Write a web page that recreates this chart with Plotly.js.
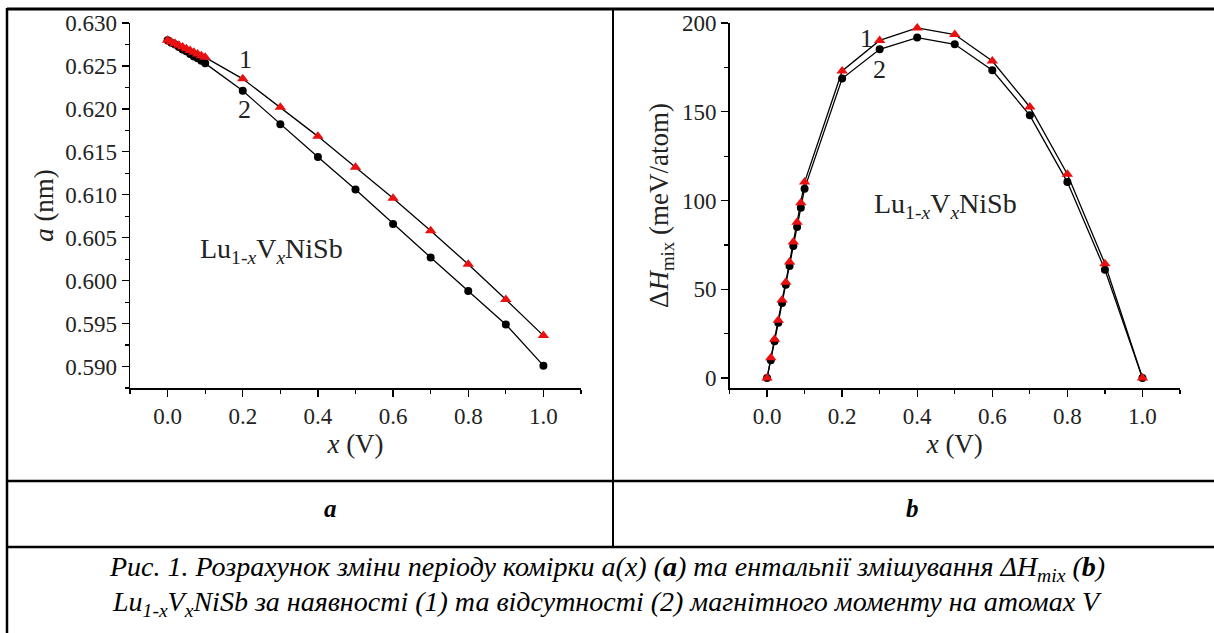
<!DOCTYPE html>
<html>
<head>
<meta charset="utf-8">
<script src="https://cdn.plot.ly/plotly-3.0.1.min.js"></script>
<style>
html,body{margin:0;padding:0;background:#fff;}
#chart{width:1214px;height:633px;}
</style>
</head>
<body>
<div id="chart"></div>
<script>
// ---- data ----
const xComp = [0, 0.01, 0.02, 0.03, 0.04, 0.05, 0.06, 0.07, 0.08, 0.09, 0.1, 0.2, 0.3, 0.4, 0.5, 0.6, 0.7, 0.8, 0.9, 1.0];
// lattice parameter a (nm): 1 - with magnetic moment, 2 - without
const a1 = [0.6280, 0.6278, 0.6276, 0.6274, 0.6272, 0.6270, 0.6268, 0.6266, 0.6264, 0.6262, 0.6260,
            0.6235, 0.6202, 0.6168, 0.6132, 0.6096, 0.6058, 0.6019, 0.5978, 0.5936];
const a2 = [0.6280, 0.6277, 0.6275, 0.6272, 0.6269, 0.6267, 0.6264, 0.6261, 0.6259, 0.6256, 0.6253,
            0.6221, 0.6182, 0.6144, 0.6106, 0.6066, 0.6027, 0.5988, 0.5949, 0.5901];
// mixing enthalpy (meV/atom)
const h1 = [0, 11.5, 21.8, 32.5, 43.9, 54.0, 65.4, 76.6, 87.7, 98.8, 110.4,
            173.0, 190.2, 197.2, 193.5, 178.6, 152.7, 114.8, 64.4, 0];
const h2 = [0, 10.0, 20.8, 31.2, 42.3, 52.6, 63.1, 74.4, 85.1, 96.0, 106.7,
            168.7, 185.2, 191.8, 188.0, 173.4, 148.0, 110.4, 61.0, 0];
const xTicks = [0, 0.2, 0.4, 0.6, 0.8, 1.0];
const xTickText = ['0.0', '0.2', '0.4', '0.6', '0.8', '1.0'];
const aTicks = [0.590, 0.595, 0.600, 0.605, 0.610, 0.615, 0.620, 0.625, 0.630];
const hTicks = [0, 50, 100, 150, 200];

const W = 1214, H = 633;
const px = v => v / W;
const py = v => 1 - v / H;
const serif = 'Liberation Serif';

function curve(x, y, xa, ya, sym, color, size) {
  return {
    x: x, y: y, xaxis: xa, yaxis: ya, type: 'scatter', mode: 'lines+markers',
    line: {color: '#000', width: 1.3},
    marker: {symbol: sym, color: color, size: size, line: {width: 0}},
    hoverinfo: 'skip', showlegend: false
  };
}

const traces = [
  curve(xComp, a2, 'x', 'y', 'circle', '#000000', 8),
  curve(xComp, a1, 'x', 'y', 'triangle-up', '#e81010', 10),
  curve(xComp, h2, 'x2', 'y2', 'circle', '#000000', 8),
  curve(xComp, h1, 'x2', 'y2', 'triangle-up', '#e81010', 10)
];

function xAxis(dom, anchor) {
  return {
    domain: dom, anchor: anchor, range: [-0.1, 1.1],
    tickmode: 'array', tickvals: xTicks, ticktext: xTickText,
    ticks: 'outside', ticklen: 7, tickwidth: 1.3, tickcolor: '#000',
    minor: {dtick: 0.1, tick0: 0, ticks: 'outside', ticklen: 4, tickwidth: 1.2, tickcolor: '#000'},
    showline: true, linecolor: '#000', linewidth: 1.5, showgrid: false, zeroline: false,
    tickfont: {family: serif, size: 23, color: '#222'},
    title: {text: '<i>x</i> (V)', font: {family: serif, size: 27, color: '#222'}, standoff: 0}
  };
}

function note(x, y, text, size, color) {
  return {xref: 'paper', yref: 'paper', x: px(x), y: py(y), xanchor: 'center', yanchor: 'middle',
          text: text, showarrow: false, font: {family: serif, size: size, color: color || '#222'}};
}

const yDom = [py(388), py(23)];
const layout = {
  width: W, height: H,
  margin: {l: 0, r: 0, t: 0, b: 0},
  paper_bgcolor: '#fff', plot_bgcolor: '#fff',
  font: {family: serif, size: 22, color: '#222'},
  showlegend: false,
  xaxis: xAxis([px(130), px(581)], 'y'),
  xaxis2: xAxis([px(729.5), px(1180)], 'y2'),
  yaxis: {
    domain: yDom, anchor: 'x', range: [0.5875, 0.630],
    tickmode: 'array', tickvals: aTicks, ticktext: aTicks.map(v => v.toFixed(3)),
    ticks: 'outside', ticklen: 7, tickwidth: 1.3, tickcolor: '#000',
    minor: {dtick: 0.0025, tick0: 0.59, ticks: 'outside', ticklen: 4, tickwidth: 1.2, tickcolor: '#000'},
    showline: true, linecolor: '#000', linewidth: 1.5, showgrid: false, zeroline: false,
    tickfont: {family: serif, size: 23, color: '#222'},
    title: {text: '<i>a</i> (nm)', font: {family: serif, size: 27, color: '#222'}, standoff: 3}
  },
  yaxis2: {
    domain: yDom, anchor: 'x2', range: [-5.6, 200],
    tickmode: 'array', tickvals: hTicks, ticktext: hTicks.map(String),
    ticks: 'outside', ticklen: 7, tickwidth: 1.3, tickcolor: '#000',
    minor: {dtick: 25, tick0: 0, ticks: 'outside', ticklen: 4, tickwidth: 1.2, tickcolor: '#000'},
    showline: true, linecolor: '#000', linewidth: 1.5, showgrid: false, zeroline: false,
    tickfont: {family: serif, size: 23, color: '#222'},
    title: {text: 'Δ<i>H</i><sub>mix</sub> (meV/atom)', font: {family: serif, size: 27, color: '#222'}, standoff: 5}
  },
  annotations: [
    note(245, 60, '1', 26),
    note(244, 110, '2', 26),
    note(866, 38, '1', 26),
    note(879, 69, '2', 26),
    note(271, 250, 'Lu<sub>1-<i>x</i></sub>V<sub><i>x</i></sub>NiSb', 28),
    note(945, 205, 'Lu<sub>1-<i>x</i></sub>V<sub><i>x</i></sub>NiSb', 28),
    note(330, 508, '<b><i>a</i></b>', 25, '#000'),
    note(912, 508, '<b><i>b</i></b>', 25, '#000'),
    note(607, 568, '<i>Рис. 1. Розрахунок зміни періоду комірки a(x) (<b>a</b>) та ентальпії змішування ΔH<sub>mix</sub> (<b>b</b>)</i>', 28, '#000'),
    note(607, 603, '<i>Lu<sub>1-x</sub>V<sub>x</sub>NiSb за наявності (1) та відсутності (2) магнітного моменту на атомах V</i>', 28, '#000')
  ],
  shapes: [
    {type: 'line', xref: 'paper', yref: 'paper', x0: px(7), x1: 1, y0: py(9), y1: py(9), line: {color: '#000', width: 3}},
    {type: 'line', xref: 'paper', yref: 'paper', x0: px(7), x1: px(7), y0: py(8), y1: 0, line: {color: '#000', width: 2.5}},
    {type: 'line', xref: 'paper', yref: 'paper', x0: px(7), x1: 1, y0: py(481), y1: py(481), line: {color: '#000', width: 2.5}},
    {type: 'line', xref: 'paper', yref: 'paper', x0: px(7), x1: 1, y0: py(547), y1: py(547), line: {color: '#000', width: 2.5}},
    {type: 'line', xref: 'paper', yref: 'paper', x0: px(613), x1: px(613), y0: py(9), y1: py(547), line: {color: '#000', width: 2}}
  ]
};

Plotly.newPlot('chart', traces, layout, {displayModeBar: false, staticPlot: true});
</script>
</body>
</html>
